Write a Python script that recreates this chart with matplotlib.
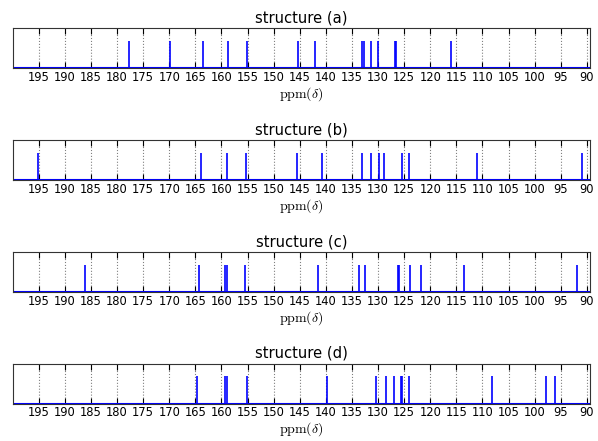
import numpy as np
import matplotlib.pyplot as plt

plt.rcParams['mathtext.fontset'] = 'cm'

# chemical shifts (ppm)
shifts_a = [177.7, 169.9, 163.5, 158.7, 155.2, 145.4, 142.1, 133.0, 132.7,
            131.4, 130.0, 126.7, 126.5, 116.0]
shifts_b = [195.1, 163.9, 158.9, 155.3, 145.6, 140.7, 133.0, 131.4, 129.8,
            128.9, 125.5, 124.1, 111.1, 90.9]
shifts_c = [186.2, 164.4, 159.4, 158.9, 155.4, 141.5, 133.7, 132.5, 126.2,
            126.0, 123.8, 121.7, 113.6, 91.8]
shifts_d = [164.6, 159.4, 159.0, 155.2, 139.7, 130.4, 128.4, 126.9, 125.6,
            125.4, 124.1, 108.1, 97.8, 96.1]

panels = [("structure (a)", shifts_a), ("structure (b)", shifts_b),
          ("structure (c)", shifts_c), ("structure (d)", shifts_d)]
xticks = np.arange(195, 89, -5)

fig = plt.figure(figsize=(5.98, 4.41), dpi=100)
bottoms = [0.845, 0.591, 0.338, 0.085]
for (title, shifts), b in zip(panels, bottoms):
    ax = fig.add_axes([0.0212, b, 0.9654, 0.0907])
    ax.vlines(shifts, 0, 1, colors='b', linewidth=1.2)
    ax.axhline(0, color='b', linewidth=1.5)
    ax.set_xlim(200, 89.4)
    ax.set_ylim(0, 1.48)
    ax.set_yticks([])
    ax.set_xticks(xticks)
    ax.tick_params(axis='x', direction='in', top=True, length=4, labelsize=8.3, pad=2)
    ax.grid(axis='x', color='gray', linestyle=':', linewidth=0.8)
    ax.set_title(title, fontsize=10.6, pad=4)
    ax.set_xlabel(r'$\mathrm{ppm}(\delta)$', fontsize=10, labelpad=1)
    for s in ax.spines.values():
        s.set_color('#333333')

fig.savefig('out.png', dpi=100)
